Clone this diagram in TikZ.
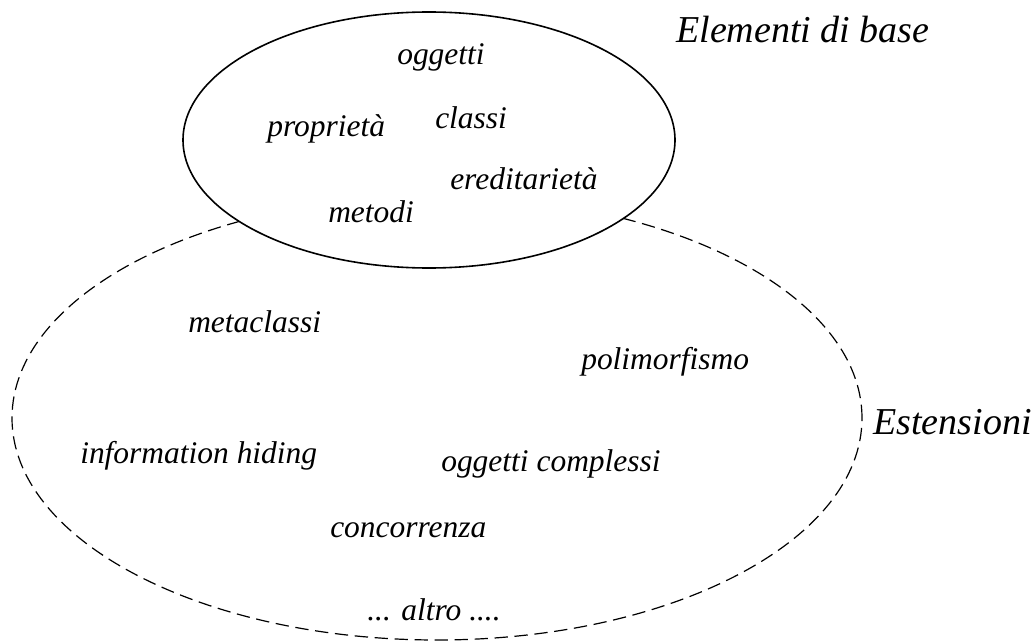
\documentclass[tikz,border=0pt]{standalone}
\usepackage{fontspec}
\setmainfont{Liberation Serif}
\usepackage{tikz}
\usetikzlibrary{shapes.geometric}
\tikzstyle{basebox}=[ellipse,draw=black,line width=1.2pt,fill=white,
inner sep=0pt,minimum width=369pt,minimum height=192pt]
\tikzstyle{extbox}=[ellipse,draw=black,line width=0.9pt,dash pattern=on 10pt off 5pt,
inner sep=0pt,minimum width=637.5pt,minimum height=333pt]
\tikzstyle{itembox}=[anchor=base west,inner sep=0pt,
font=\fontsize{23.6}{28}\selectfont\itshape]
\tikzstyle{titlebox}=[anchor=base west,inner sep=0pt,
font=\fontsize{28.5}{34}\selectfont\itshape]

\begin{document}
\begin{tikzpicture}[x=0.75pt,y=-0.75pt]
    \useasboundingbox (0,0) rectangle (1036,642);
    \node[extbox] (ext) at (437,418) {};
    \node[basebox] (base) at (429,140) {};

    \node[itembox] (oggetti) at (397,65) {oggetti};
    \node[itembox] (classi) at (435,128) {classi};
    \node[itembox] (proprieta) at (267,137) {proprietà};
    \node[itembox] (ereditarieta) at (450,190) {ereditarietà};
    \node[itembox] (metodi) at (328,222) {metodi};
    \node[titlebox] (elementi) at (676,43) {Elementi di base};

    \node[itembox] (metaclassi) at (188,332) {metaclassi};
    \node[itembox] (polimorfismo) at (581,369) {polimorfismo};
    \node[titlebox] (estensioni) at (873,434) {Estensioni};
    \node[itembox] (hiding) at (80,463) {information hiding};
    \node[itembox] (complessi) at (441,471) {oggetti complessi};
    \node[itembox] (concorrenza) at (330,537) {concorrenza};
    \node[itembox] (altro) at (367,620) {... altro ....};
\end{tikzpicture}
\end{document}
